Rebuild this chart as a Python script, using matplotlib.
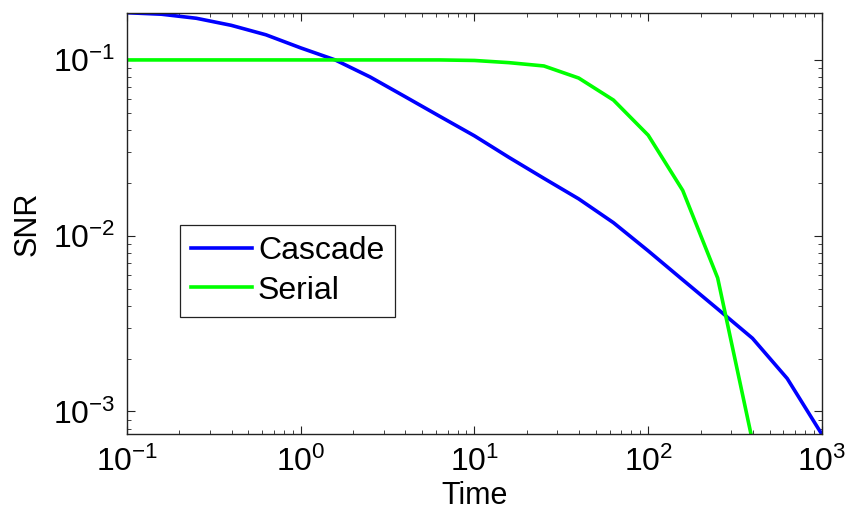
import numpy as np
import matplotlib
matplotlib.use("Agg")
import matplotlib.pyplot as plt
from matplotlib.ticker import LogLocator, NullFormatter

plt.rcParams["font.family"] = ["Liberation Sans", "DejaVu Sans"]
plt.rcParams["mathtext.default"] = "regular"

# Sampling times (log-spaced, five points per decade)
time = [0.1, 0.158, 0.251, 0.398, 0.631, 1.0, 1.58, 2.51, 3.98, 6.31,
        10.0, 15.8, 25.1, 39.8, 63.1, 100.0, 158.0, 251.0, 398.0, 631.0, 1000.0]

cascade_snr = [0.1856, 0.182, 0.1726, 0.1574, 0.139, 0.1171, 0.1, 0.080,
               0.0619, 0.0478, 0.0370, 0.0279, 0.0212, 0.0162, 0.01186,
               0.0082, 0.00561, 0.00383, 0.00261, 0.00154, 0.00074]

serial_time = time[:19]
serial_snr = [0.1, 0.1, 0.1, 0.1, 0.1, 0.1, 0.1, 0.1, 0.1, 0.1,
              0.0993, 0.0965, 0.0924, 0.0789, 0.0591, 0.0373, 0.0181,
              0.00575, 0.00068]

fig = plt.figure(figsize=(8.46, 5.17), dpi=100)
ax = fig.add_axes([0.150, 0.1596, 0.8216, 0.8158])

ax.loglog(time, cascade_snr, color=(0, 0, 1), lw=2.6, label="Cascade")
ax.loglog(serial_time, serial_snr, color=(0, 1, 0), lw=2.6, label="Serial")

ax.set_xlim(min(time), max(time))
ax.set_ylim(min(cascade_snr), max(cascade_snr))

ax.xaxis.set_major_locator(LogLocator(base=10, numticks=10))
ax.yaxis.set_major_locator(LogLocator(base=10, numticks=10))
ax.xaxis.set_minor_locator(LogLocator(base=10, subs=np.arange(2, 10), numticks=50))
ax.yaxis.set_minor_locator(LogLocator(base=10, subs=np.arange(2, 10), numticks=50))
ax.xaxis.set_minor_formatter(NullFormatter())
ax.yaxis.set_minor_formatter(NullFormatter())

ax.tick_params(which="both", direction="in", top=True, right=True,
               labelsize=23, color="#222222")
ax.tick_params(which="major", length=6, width=0.8)
ax.tick_params(which="minor", length=3, width=0.6)
ax.tick_params(axis="x", which="major", pad=9)
ax.tick_params(axis="y", which="major", pad=8)

for sp in ax.spines.values():
    sp.set_linewidth(1.0)
    sp.set_color("#222222")

ax.set_xlabel("Time", fontsize=22, labelpad=2)
ax.set_ylabel("SNR", fontsize=22, labelpad=8)

leg = ax.legend(loc="lower left", bbox_to_anchor=(0.076, 0.279),
                borderaxespad=0, fontsize=23, fancybox=False, framealpha=1,
                edgecolor="#222222", handlelength=1.9, handletextpad=0.2,
                labelspacing=0.3, borderpad=0.35)
leg.get_frame().set_linewidth(0.9)

fig.savefig("out.png", dpi=100)
